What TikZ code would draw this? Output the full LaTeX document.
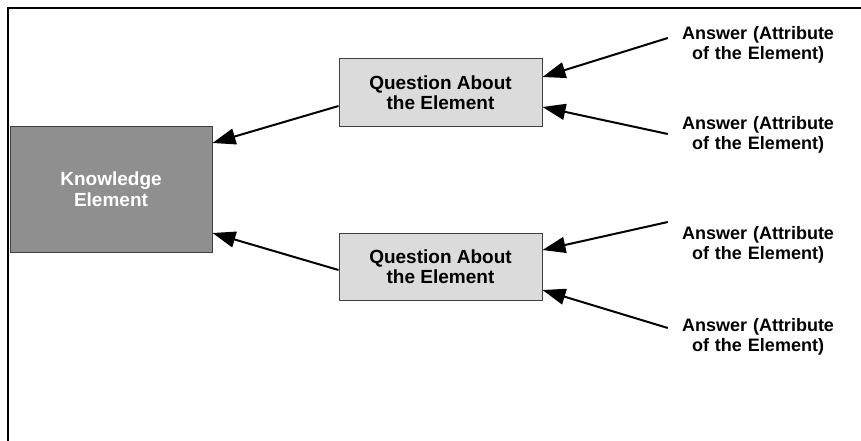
\documentclass[tikz,border=0pt]{standalone}
\usepackage{fontspec}
\setmainfont{Liberation Sans}
\usetikzlibrary{arrows.meta}
\begin{document}
\begin{tikzpicture}[x=1pt,y=-1pt,
  every node/.style={font=\bfseries\fontsize{18}{20}\selectfont, align=center, inner sep=0pt},
  boxtext/.style={font=\bfseries\fontsize{19}{20.5}\selectfont},
  kbox/.style={boxtext, draw=black!75, line width=1pt, fill=black!44, text=white, minimum width=202pt, minimum height=126pt},
  qbox/.style={boxtext, draw=black!75, line width=1pt, fill=black!14, minimum width=203pt, minimum height=67pt},
  ans/.style={text width=160pt},
  link/.style={line width=2pt, -{Triangle[length=23pt,width=16pt]}}]
  \useasboundingbox (0,0) rectangle (861,441);
  % open frame: top and left sides only
  \draw[line width=2.5pt] (8,441) -- (8,8) -- (861,8);

  \node[kbox] (ke) at (111,189) {Knowledge\\Element};
  \node[qbox] (q1) at (440.5,92.5) {Question About\\the Element};
  \node[qbox] (q2) at (440.5,266.5) {Question About\\the Element};

  \node[ans] (a1) at (758,45) {Answer (Attribute\\of the Element)};
  \node[ans] (a2) at (758,135) {Answer (Attribute\\of the Element)};
  \node[ans] (a3) at (758,245) {Answer (Attribute\\of the Element)};
  \node[ans] (a4) at (758,337) {Answer (Attribute\\of the Element)};

  % answers feed the questions
  \draw[link] ([xshift=-10pt,yshift=7pt]a1.west) -- ([yshift=15.5pt]q1.east);
  \draw[link] ([xshift=-10pt,yshift=1pt]a2.west) -- ([yshift=-14.5pt]q1.east);
  \draw[link] ([xshift=-10pt,yshift=23pt]a3.west) -- ([yshift=16.5pt]q2.east);
  \draw[link] ([xshift=-10pt,yshift=9pt]a4.west) -- ([yshift=-23.5pt]q2.east);

  % questions feed the knowledge element
  \draw[link] ([yshift=-13.5pt]q1.west) -- ([yshift=46pt]ke.east);
  \draw[link] ([yshift=-3.5pt]q2.west) -- ([yshift=-44pt]ke.east);
\end{tikzpicture}
\end{document}
